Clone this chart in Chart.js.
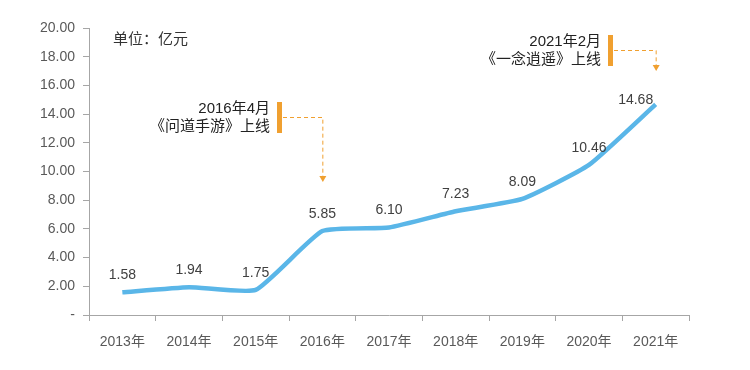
<!DOCTYPE html>
<html>
<head>
<meta charset="utf-8">
<script src="https://cdn.jsdelivr.net/npm/chart.js@4.4.0/dist/chart.umd.min.js"></script>
<style>
  body { margin: 0; background: #fff; }
  #wrap { width: 750px; height: 370px; }
</style>
</head>
<body>
<div id="wrap"><canvas id="myChart"></canvas></div>
<script>
var years = ["2013年", "2014年", "2015年", "2016年", "2017年", "2018年", "2019年", "2020年", "2021年"];
var revenue = [1.58, 1.94, 1.75, 5.85, 6.10, 7.23, 8.09, 10.46, 14.68];
var yTicks = [0, 2, 4, 6, 8, 10, 12, 14, 16, 18, 20];
var unitText = "单位：亿元";
// launch notes: category index the arrow points at, text lines
var notes = [
  { idx: 3, lines: ["2016年4月", "《问道手游》上线"] },
  { idx: 8, lines: ["2021年2月", "《一念逍遥》上线"] }
];

var FONT = "'Liberation Sans', Arial, 'Noto Sans CJK SC', sans-serif";
var GRAY = "#595959";
var AXIS = "#a6a6a6";
var ORANGE = "#f0a030";

var extras = {
  id: 'extras',
  afterDatasetsDraw: function(chart) {
    var c = chart.ctx;
    var x = chart.scales.x, y = chart.scales.y;
    var meta = chart.getDatasetMeta(0);
    c.save();
    // value labels
    c.font = "14px " + FONT;
    c.fillStyle = "#404040";
    c.textAlign = "center";
    meta.data.forEach(function(p, i) {
      if (i === revenue.length - 1) {
        c.textBaseline = "middle";
        c.fillText(revenue[i].toFixed(2), p.x - 20, p.y - 4);
      } else {
        c.textBaseline = "bottom";
        c.fillText(revenue[i].toFixed(2), p.x, p.y - 10);
      }
    });
    // unit
    c.textAlign = "left";
    c.textBaseline = "middle";
    c.fillStyle = "#333";
    c.font = "15px " + FONT;
    c.fillText(unitText, 113, 40);
    // notes
    notes.forEach(function(n, k) {
      var ax = x.getPixelForValue(n.idx);
      var barX = k === 0 ? 277 : 608;
      var top = k === 0 ? 102 : 35;
      var tipY = k === 0 ? 182 : 71;
      c.fillStyle = ORANGE;
      c.fillRect(barX, top, 5, 31);
      c.fillStyle = "#222";
      c.textAlign = "right";
      c.textBaseline = "middle";
      c.font = "15px " + FONT;
      c.fillText(n.lines[0], barX - 7, top + 7);
      c.fillText(n.lines[1], barX - 7, top + 25);
      c.strokeStyle = ORANGE;
      c.lineWidth = 1;
      c.setLineDash([4, 3]);
      c.beginPath();
      c.moveTo(barX + 6, top + 15.5);
      c.lineTo(ax + 0.5, top + 15.5);
      c.lineTo(ax + 0.5, tipY - 5);
      c.stroke();
      c.setLineDash([]);
      c.fillStyle = ORANGE;
      c.beginPath();
      c.moveTo(ax - 3, tipY - 6);
      c.lineTo(ax + 4, tipY - 6);
      c.lineTo(ax + 0.5, tipY);
      c.closePath();
      c.fill();
    });
    c.restore();
  }
};

var ctx = document.getElementById('myChart').getContext('2d');
var myChart = new Chart(ctx, {
  type: 'line',
  data: {
    labels: years,
    datasets: [{
      data: revenue,
      borderColor: "#5ab6e8",
      borderWidth: 4.5,
      pointRadius: 0,
      tension: 0.15,
      fill: false
    }]
  },
  options: {
    responsive: true,
    maintainAspectRatio: false,
    animation: false,
    layout: { padding: { left: 0, right: 61, top: 28, bottom: 0 } },
    plugins: { legend: { display: false }, tooltip: { enabled: false } },
    scales: {
      x: {
        offset: true,
        grid: { offset: true, drawOnChartArea: false, color: AXIS, tickLength: 6 },
        border: { color: AXIS, width: 1 },
        ticks: { color: GRAY, font: { family: FONT, size: 14 }, padding: 13, maxRotation: 0 },
        afterFit: function(s) { s.height = 55; }
      },
      y: {
        min: 0, max: 20,
        afterBuildTicks: function(s) { s.ticks = yTicks.map(function(v) { return { value: v }; }); },
        grid: { drawOnChartArea: false, color: AXIS, tickLength: 6 },
        border: { color: AXIS, width: 1 },
        ticks: {
          color: GRAY, font: { family: FONT, size: 14 }, padding: 8,
          callback: function(v) { return v === 0 ? "-" : v.toFixed(2); }
        },
        afterFit: function(s) { s.width = 89; }
      }
    }
  },
  plugins: [extras]
});
</script>
</body>
</html>
